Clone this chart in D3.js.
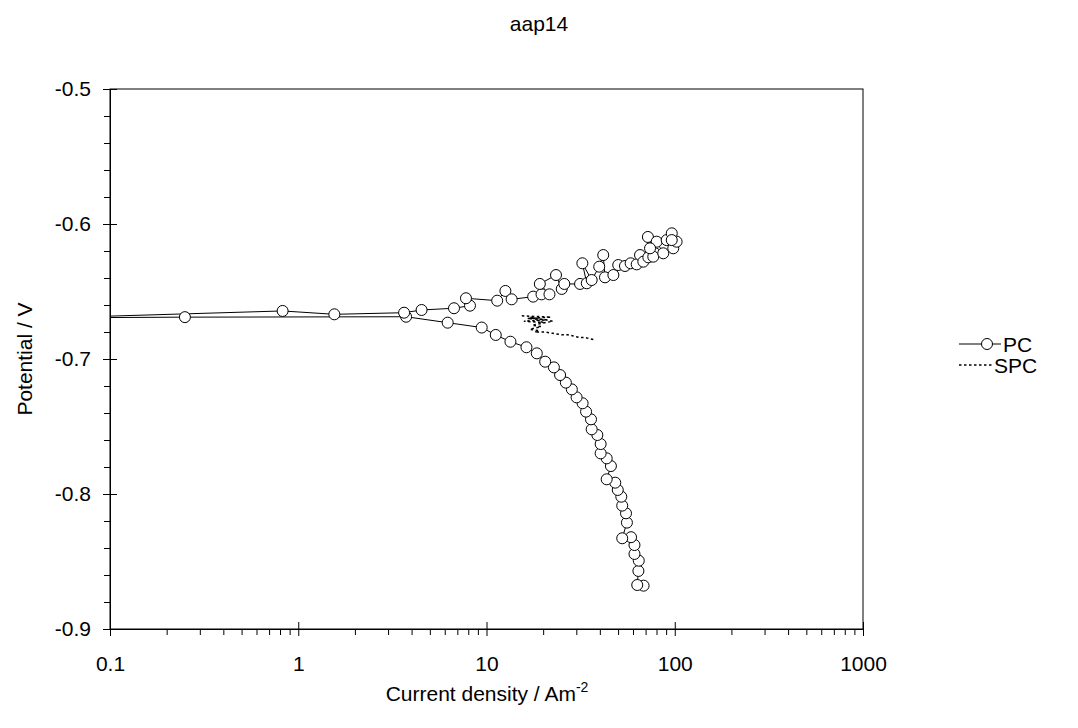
<!DOCTYPE html>
<html>
<head>
<meta charset="utf-8">
<script src="https://cdn.jsdelivr.net/npm/d3@7"></script>
<style>
  body { margin: 0; background: #fff; }
  svg { display: block; font-family: "Liberation Sans", Arial, sans-serif; }
</style>
</head>
<body>
<svg id="chart" width="1078" height="728"></svg>
<script>
// ---------- DATA ----------
const chartTitle = "aap14";
const seriesNames = ["PC", "SPC"];

// PC: current density (A m^-2) and potential (V), in scan order
const pcCurrent = [
  68.3, 63.2, 64.1, 64.4, 61.1, 61.1, 58.6, 52.6, 55.7, 55.1,
  52.6, 52.0, 49.8, 48.3, 43.5, 45.8, 43.5, 40.4, 40.4, 38.8,
  36.2, 35.9, 33.8, 32.4, 30.1, 28.4, 26.4, 24.6, 22.8, 20.5,
  18.5, 16.3, 13.4, 11.2, 9.43, 6.22, 3.74, 0.25, 0.05,
  0.826, 1.555, 3.65, 4.52, 6.72, 8.17, 7.78, 11.4, 12.6, 13.6,
  17.7, 19.6, 21.6, 19.2, 23.4, 25.1, 25.9, 31.4, 34.1, 32.3,
  36.2, 39.7, 41.7, 42.6, 47.2, 50.1, 54.4, 58.3, 62.8, 65.4,
  68.1, 72.4, 72.0, 78.5, 76.9, 86.9, 80.2, 73.9, 90.6, 96.4,
  98.2, 102.3, 96.4
];
const pcPotential = [
  -0.8679, -0.8674, -0.857, -0.8494, -0.8444, -0.8378, -0.832, -0.8328, -0.8212, -0.8143,
  -0.8086, -0.802, -0.797, -0.7916, -0.7891, -0.7793, -0.7736, -0.7699, -0.763, -0.7563,
  -0.7521, -0.7447, -0.739, -0.7328, -0.7284, -0.7225, -0.7175, -0.7119, -0.7062, -0.702,
  -0.6958, -0.6913, -0.6872, -0.6822, -0.6767, -0.6731, -0.6687, -0.669, -0.6695,
  -0.6644, -0.6669, -0.6657, -0.6637, -0.6624, -0.6605, -0.655, -0.6568, -0.6496, -0.6558,
  -0.6538, -0.6521, -0.6521, -0.6444, -0.6378, -0.6481, -0.6444, -0.6444, -0.6439, -0.6291,
  -0.6415, -0.6316, -0.623, -0.6395, -0.6378, -0.6304, -0.6311, -0.6291, -0.6299, -0.623,
  -0.6279, -0.6247, -0.6096, -0.6217, -0.6242, -0.6217, -0.6131, -0.618, -0.6119, -0.6069,
  -0.618, -0.6131, -0.6119
];

// SPC: current density and potential
const spcCurrent = [
  15.4, 22.0, 16.5, 21.0, 15.8, 20.0, 17.0, 22.5, 17.5, 19.5,
  17.0, 19.0, 18.0, 20.5, 22.5, 25.0, 27.0, 29.0, 31.0, 33.0,
  35.5, 38.0
];
const spcPotential = [
  -0.668, -0.669, -0.670, -0.671, -0.672, -0.673, -0.669, -0.672, -0.675, -0.676,
  -0.678, -0.679, -0.680, -0.680, -0.681, -0.682, -0.682, -0.683, -0.684, -0.684,
  -0.685, -0.686
];

const xTickValues = [0.1, 1, 10, 100, 1000];
const xTickLabels = ["0.1", "1", "10", "100", "1000"];
const yTickValues = [-0.9, -0.8, -0.7, -0.6, -0.5];
const yTickLabels = ["-0.9", "-0.8", "-0.7", "-0.6", "-0.5"];
const xLabel = "Current density / Am";
const xLabelSup = "-2";
const yLabel = "Potential / V";

// ---------- LAYOUT ----------
const svg = d3.select("#chart");
const plot = { left: 110, right: 863, top: 89, bottom: 629 };
const fontSize = 21;
const ff = "Liberation Sans, Arial, sans-serif";

const x = d3.scaleLog().domain([0.1, 1000]).range([plot.left, plot.right]);
const y = d3.scaleLinear().domain([-0.9, -0.5]).range([plot.bottom, plot.top]);

// minor ticks
const xMinor = [];
for (let d = 0.1; d < 1000; d *= 10) for (let k = 2; k <= 9; k++) xMinor.push(+(d * k).toPrecision(3));
const yMinor = d3.range(-0.9, -0.5, 0.02).map(v => +v.toFixed(2)).filter(v => !yTickValues.some(t => Math.abs(t - v) < 1e-6));

// title
svg.append("text").attr("x", 539).attr("y", 30.5).attr("text-anchor", "middle")
  .attr("font-size", fontSize).text(chartTitle);

// frame
svg.append("rect").attr("x", plot.left).attr("y", plot.top)
  .attr("width", plot.right - plot.left).attr("height", plot.bottom - plot.top)
  .attr("fill", "none").attr("stroke", "#000").attr("stroke-width", 1);

// X axis
const gx = svg.append("g").attr("transform", `translate(0,${plot.bottom})`);
gx.call(d3.axisBottom(x).tickValues(xTickValues).tickSizeInner(7).tickSizeOuter(0)
  .tickFormat((d, i) => xTickLabels[i]));
gx.selectAll("text").attr("y", 27.5).attr("font-size", fontSize)
  .attr("font-family", ff).attr("fill", "#000");
const gxIn = svg.append("g").attr("transform", `translate(0,${plot.bottom})`);
gxIn.call(d3.axisBottom(x).tickValues(xTickValues).tickSizeInner(-7).tickSizeOuter(0).tickFormat(""));
const gxMin = svg.append("g").attr("transform", `translate(0,${plot.bottom})`);
gxMin.call(d3.axisBottom(x).tickValues(xMinor).tickSizeInner(6).tickSizeOuter(0).tickFormat(""));

// Y axis
const gy = svg.append("g").attr("transform", `translate(${plot.left},0)`);
gy.call(d3.axisLeft(y).tickValues(yTickValues).tickSizeInner(7).tickSizeOuter(0).tickPadding(12)
  .tickFormat((d, i) => yTickLabels[i]));
gy.selectAll("text").attr("font-size", fontSize)
  .attr("font-family", ff).attr("fill", "#000");
const gyIn = svg.append("g").attr("transform", `translate(${plot.left},0)`);
gyIn.call(d3.axisLeft(y).tickValues(yTickValues).tickSizeInner(-7).tickSizeOuter(0).tickFormat(""));
const gyMin = svg.append("g").attr("transform", `translate(${plot.left},0)`);
gyMin.call(d3.axisLeft(y).tickValues(yMinor).tickSizeInner(6).tickSizeOuter(0).tickFormat(""));

svg.selectAll(".domain").attr("stroke", "#000");
svg.selectAll(".tick line").attr("stroke", "#000");

// axis titles
const xt = svg.append("text").attr("x", 487).attr("y", 701).attr("text-anchor", "middle")
  .attr("font-size", fontSize);
xt.append("tspan").text(xLabel);
xt.append("tspan").attr("dy", -9).attr("font-size", 14).text(xLabelSup);

svg.append("text").attr("transform", `translate(32,${(plot.top + plot.bottom) / 2}) rotate(-90)`)
  .attr("text-anchor", "middle").attr("font-size", fontSize).text(yLabel);

// clip
svg.append("clipPath").attr("id", "clip").append("rect")
  .attr("x", plot.left).attr("y", plot.top)
  .attr("width", plot.right - plot.left).attr("height", plot.bottom - plot.top);

const pcData = pcCurrent.map((c, i) => ({ c, v: pcPotential[i] }));
const spcData = spcCurrent.map((c, i) => ({ c, v: spcPotential[i] }));
const line = d3.line().x(d => x(d.c)).y(d => y(d.v));

const gData = svg.append("g").attr("clip-path", "url(#clip)");
gData.append("path").datum(spcData).attr("d", line).attr("fill", "none")
  .attr("stroke", "#000").attr("stroke-width", 1.5).attr("stroke-dasharray", "2.5,2.5");
gData.append("path").datum(pcData).attr("d", line).attr("fill", "none")
  .attr("stroke", "#000").attr("stroke-width", 1);
gData.selectAll("circle.pc").data(pcData.filter(d => d.c >= 0.1)).join("circle")
  .attr("class", "pc").attr("cx", d => x(d.c)).attr("cy", d => y(d.v)).attr("r", 5.5)
  .attr("fill", "#fff").attr("stroke", "#000").attr("stroke-width", 1);

// legend
const lg = svg.append("g");
lg.append("line").attr("x1", 959).attr("x2", 1001).attr("y1", 344).attr("y2", 344)
  .attr("stroke", "#000").attr("stroke-width", 1);
lg.append("circle").attr("cx", 987).attr("cy", 344).attr("r", 5.5)
  .attr("fill", "#fff").attr("stroke", "#000");
lg.append("text").attr("x", 1003).attr("y", 351.5).attr("font-size", fontSize).text(seriesNames[0]);
lg.append("line").attr("x1", 959).attr("x2", 992).attr("y1", 365).attr("y2", 365)
  .attr("stroke", "#000").attr("stroke-width", 1.5).attr("stroke-dasharray", "2.5,2.5");
lg.append("text").attr("x", 994).attr("y", 372.5).attr("font-size", fontSize).text(seriesNames[1]);
</script>
</body>
</html>
